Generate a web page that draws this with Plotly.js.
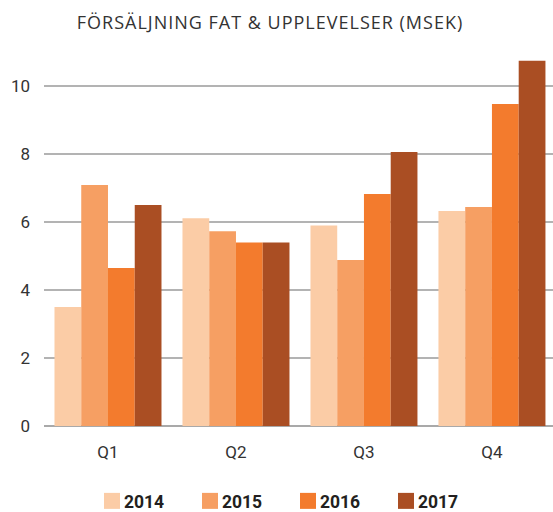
<!DOCTYPE html>
<html>
<head>
<meta charset="utf-8">
<script src="https://cdn.plot.ly/plotly-3.0.1.min.js"></script>
<style>html,body{margin:0;padding:0;background:#fff;}#chart{width:553px;height:512px;}</style>
</head>
<body>
<div id="chart"></div>
<script>
const quarters = ["Q1", "Q2", "Q3", "Q4"];
const years = ["2014", "2015", "2016", "2017"];
const sales2014 = [3.5, 6.11, 5.9, 6.32];
const sales2015 = [7.09, 5.73, 4.88, 6.44];
const sales2016 = [4.65, 5.4, 6.82, 9.47];
const sales2017 = [6.5, 5.4, 8.06, 10.74];
const colors = ["#FBCCA6", "#F69F63", "#F37B2D", "#AA4E23"];
const series = [sales2014, sales2015, sales2016, sales2017];

const traces = series.map((vals, i) => ({
  type: "bar",
  name: years[i],
  x: quarters,
  y: vals,
  marker: {color: colors[i], line: {width: 0}},
  hoverinfo: "none"
}));

const layout = {
  width: 553,
  height: 512,
  margin: {l: 44, r: 0, t: 52, b: 86, autoexpand: false},
  paper_bgcolor: "#fff",
  plot_bgcolor: "#fff",
  barmode: "group",
  bargap: 0.164,
  bargroupgap: 0,
  font: {family: "Roboto, 'DejaVu Sans', sans-serif", color: "#333"},
  title: {
    text: "FÖRSÄLJNING FAT &amp; UPPLEVELSER (MSEK)",
    font: {size: 18, color: "#333", family: "'Open Sans', Roboto, sans-serif"},
    x: 270 / 553, xanchor: "center", xref: "container",
    y: 1 - 23 / 512, yanchor: "middle", yref: "container"
  },
  xaxis: {
    type: "category",
    range: [-0.5, 3.477],
    showgrid: false,
    zeroline: false,
    showline: false,
    ticks: "",
    ticklabelstandoff: 14,
    tickfont: {size: 17, color: "#333"},
    fixedrange: true
  },
  yaxis: {
    range: [0, 11],
    tickvals: [0, 2, 4, 6, 8, 10],
    showgrid: true,
    gridcolor: "#b3b3b3",
    gridwidth: 1.6,
    zeroline: true,
    zerolinecolor: "#a9a9a9",
    zerolinewidth: 1.8,
    showline: false,
    ticks: "",
    ticklabelstandoff: 13,
    tickfont: {size: 17, color: "#333"},
    fixedrange: true
  },
  showlegend: true,
  legend: {
    orientation: "h",
    x: (84 - 44) / 509,
    xanchor: "left",
    y: -(501 - 426) / 374,
    yanchor: "middle",
    entrywidth: 53,
    entrywidthmode: "pixels",
    font: {size: 17.5, color: "#231f20", family: "Roboto, sans-serif", weight: "bold"},
    traceorder: "normal",
    bgcolor: "rgba(0,0,0,0)"
  }
};

Plotly.newPlot("chart", traces, layout, {displayModeBar: false, staticPlot: true}).then(gd => {
  gd.querySelectorAll(".legendpoints path").forEach(p => {
    p.setAttribute("d", "M16,8H0V-8H16Z");
  });
  const t = gd.querySelector(".gtitle");
  if (t) t.style.letterSpacing = "1px";
});
</script>
</body>
</html>
